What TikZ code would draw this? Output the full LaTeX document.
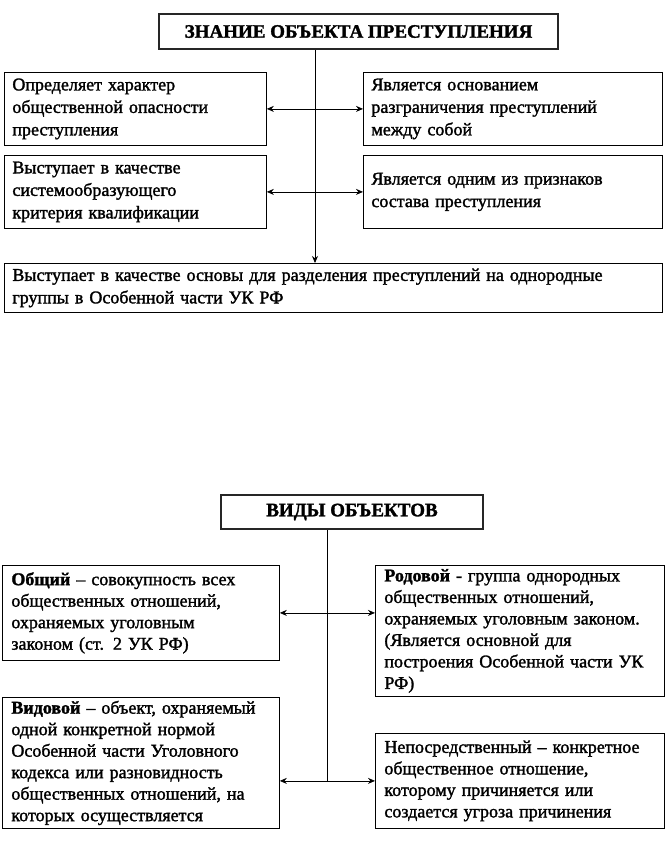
\documentclass[tikz,border=0pt]{standalone}
\usepackage{fontspec}
\setmainfont{Liberation Serif}[FakeBold=1.6]
\usetikzlibrary{arrows.meta}

\tikzset{
  headbox/.style={draw=black!85, line width=2pt, inner sep=0pt,
    font=\bfseries\fontsize{19}{22}\selectfont},
  txtbox/.style={draw, line width=0.8pt, anchor=north west, align=left,
    inner xsep=8pt, inner ysep=2pt, font=\fontsize{18}{22.5}\selectfont},
  kindbox/.style={draw, line width=0.8pt, anchor=north west, align=left,
    inner xsep=9pt, inner ysep=1pt, font=\fontsize{18}{21.5}\selectfont},
  link/.style={{Stealth[length=7pt,width=6pt]}-{Stealth[length=7pt,width=6pt]}, line width=0.8pt},
}

\begin{document}
\begin{tikzpicture}[x=1pt,y=-1pt]
  \useasboundingbox (0,0) rectangle (666,852);

  %% knowledge of the object
  \node[headbox, anchor=north west, minimum width=399pt, minimum height=35pt] (know) at (158,13)
    {ЗНАНИЕ ОБЪЕКТА ПРЕСТУПЛЕНИЯ};
  \coordinate (axA) at (315,0);

  \node[txtbox, text width=246pt, minimum height=73pt] (defines) at (4,72)
    {Определяет характер\\ общественной опасности\\ преступления};
  \node[txtbox, text width=283pt, minimum height=73pt] (basis) at (363,72)
    {Является основанием\\ разграничения преступлений\\ между собой};
  \node[txtbox, text width=246pt, minimum height=73pt] (system) at (4,155)
    {Выступает в качестве\\ системообразующего\\ критерия квалификации};
  \node[txtbox, text width=283pt, minimum height=73pt] (sign) at (363,155)
    {Является одним из признаков\\ состава преступления};
  \node[txtbox, text width=642pt, minimum height=49pt] (groups) at (4,263)
    {Выступает в качестве основы для разделения преступлений на однородные\\ группы в Особенной части УК РФ};

  \draw[line width=0.8pt, -{Stealth[length=7pt,width=6pt]}] (know.south -| axA) -- (groups.north -| axA); % main line
  \draw[link] (defines.east) -- (basis.west);
  \draw[link] (system.east) -- (sign.west);

  %% kinds of objects
  \node[headbox, anchor=north west, minimum width=262pt, minimum height=34pt] (kinds) at (220,494)
    {ВИДЫ ОБЪЕКТОВ};
  \coordinate (axB) at (327,0);

  \node[kindbox, text width=259pt, minimum height=95pt] (general) at (2,565)
    {\textbf{Общий} – совокупность всех\\ общественных отношений,\\ охраняемых уголовным\\ законом (ст. 2 УК РФ)};
  \node[kindbox, text width=271pt, minimum height=131pt] (generic) at (375,565)
    {\textbf{Родовой} - группа однородных\\ общественных отношений,\\ охраняемых уголовным законом.\\ (Является основной для\\ построения Особенной части УК\\ РФ)};
  \node[kindbox, text width=259pt, minimum height=131pt] (species) at (2,697)
    {\textbf{Видовой} – объект, охраняемый\\ одной конкретной нормой\\ Особенной части Уголовного\\ кодекса или разновидность\\ общественных отношений, на\\ которых осуществляется};
  \node[kindbox, text width=271pt, minimum height=95pt] (direct) at (375,733)
    {Непосредственный – конкретное\\ общественное отношение,\\ которому причиняется или\\ создается угроза причинения};

  \draw[line width=0.8pt] (kinds.south -| axB) -- (direct.west -| axB);
  \draw[link] (general.east) -- (general.east -| generic.west);
  \draw[link] (direct.west -| species.east) -- (direct.west);
\end{tikzpicture}
\end{document}
